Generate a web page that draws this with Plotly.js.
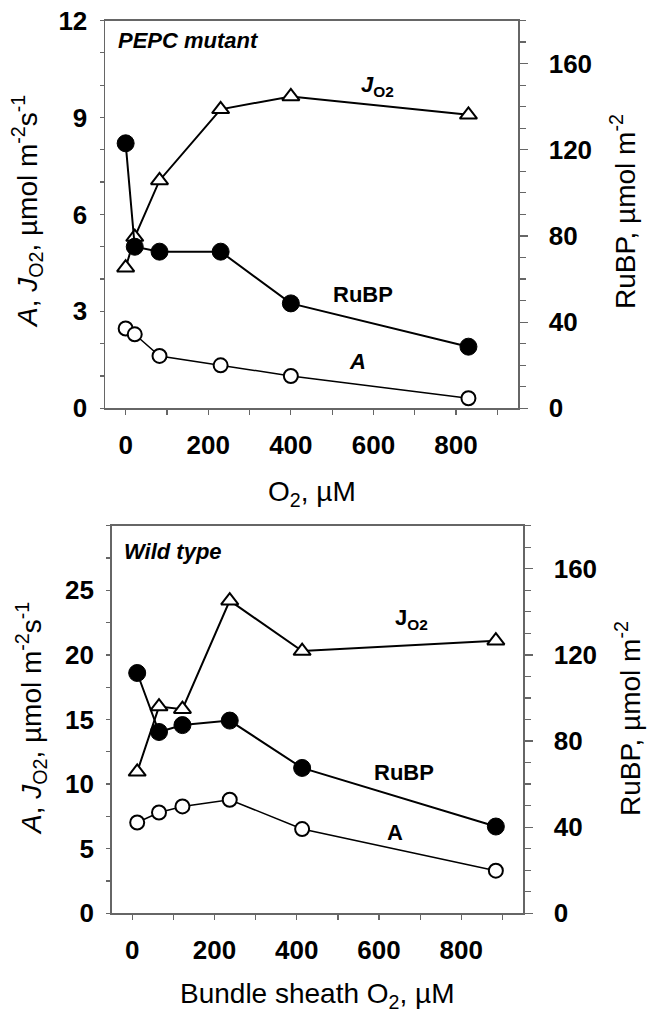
<!DOCTYPE html>
<html>
<head>
<meta charset="utf-8">
<script src="https://cdn.plot.ly/plotly-3.0.1.min.js"></script>
<style>html,body{margin:0;padding:0;background:#fff;}#chart{width:649px;height:1013px;}</style>
</head>
<body>
<div id="chart"></div>
<script>
// ---- Data ----
// Top panel: PEPC mutant
const topO2 = [0, 22, 82, 230, 400, 830];
const topJO2 = [4.35, 5.3, 7.05, 9.25, 9.65, 9.08];
const topA = [2.47, 2.29, 1.62, 1.33, 1.0, 0.31];
const topRuBP = [123, 75, 72.7, 72.7, 48.7, 28.6];
// Bottom panel: Wild type
const botO2 = [12, 65, 122, 237, 413, 884];
const botJO2 = [10.95, 16.0, 15.8, 24.2, 20.3, 21.1];
const botA = [7.03, 7.8, 8.27, 8.79, 6.52, 3.3];
const botRuBP = [111.6, 84.2, 87.4, 89.5, 67.5, 40.3];
// Tick labels
const xTicks = [0, 200, 400, 600, 800];
const topLeftTicks = [0, 3, 6, 9, 12];
const botLeftTicks = [0, 5, 10, 15, 20, 25];
const rightTicks = [0, 40, 80, 120, 160];

const W = 649, H = 1013;
const px = v => v / W;
const py = v => 1 - v / H;

const FONT = 'Liberation Sans, Arial, Helvetica, sans-serif';
const AX = '#666';

function openMarker(sym, size) {
  return {symbol: sym, size: size, color: '#fff', line: {color: '#000', width: 2}};
}

const traces = [
  {x: topO2, y: topJO2, xaxis: 'x', yaxis: 'y', mode: 'lines+markers', name: 'J_O2',
   line: {color: '#000', width: 2}, marker: openMarker('triangle-up', 15), cliponaxis: false},
  {x: topO2, y: topA, xaxis: 'x', yaxis: 'y', mode: 'lines+markers', name: 'A',
   line: {color: '#000', width: 1.5}, marker: openMarker('circle', 14), cliponaxis: false},
  {x: topO2, y: topRuBP, xaxis: 'x', yaxis: 'y2', mode: 'lines+markers', name: 'RuBP',
   line: {color: '#000', width: 2}, marker: {symbol: 'circle', size: 17, color: '#000', line: {color: '#000', width: 1}}, cliponaxis: false},
  {x: botO2, y: botJO2, xaxis: 'x2', yaxis: 'y3', mode: 'lines+markers', name: 'J_O2',
   line: {color: '#000', width: 2}, marker: openMarker('triangle-up', 15), cliponaxis: false},
  {x: botO2, y: botA, xaxis: 'x2', yaxis: 'y3', mode: 'lines+markers', name: 'A',
   line: {color: '#000', width: 1.5}, marker: openMarker('circle', 14), cliponaxis: false},
  {x: botO2, y: botRuBP, xaxis: 'x2', yaxis: 'y4', mode: 'lines+markers', name: 'RuBP',
   line: {color: '#000', width: 2}, marker: {symbol: 'circle', size: 17, color: '#000', line: {color: '#000', width: 1}}, cliponaxis: false}
];

const tickFont = {family: FONT, size: 26, color: '#000', weight: 'bold'};

function xAxis(domain, anchor) {
  return {
    domain: domain, anchor: anchor, range: [-50, 950],
    tickmode: 'array', tickvals: xTicks, ticktext: xTicks.map(String),
    ticks: 'outside', ticklen: 5, tickwidth: 1.2, tickcolor: AX,
    minor: {dtick: 100, tick0: 0, ticks: 'outside', ticklen: 5, tickwidth: 1.2, tickcolor: AX, showgrid: false},
    showline: true, linecolor: AX, linewidth: 1.5, mirror: true,
    showgrid: false, zeroline: false, tickfont: tickFont, ticklabelstandoff: 8,
    fixedrange: true
  };
}
function leftAxis(domain, anchor, range, ticks, minorStep) {
  return {
    domain: domain, anchor: anchor, range: range, side: 'left',
    tickmode: 'array', tickvals: ticks, ticktext: ticks.map(String),
    ticks: 'outside', ticklen: 4, tickwidth: 1.2, tickcolor: AX,
    minor: {dtick: minorStep, tick0: 0, ticks: 'outside', ticklen: 4, tickwidth: 1.2, tickcolor: AX, showgrid: false},
    showline: true, linecolor: AX, linewidth: 1.5,
    showgrid: false, zeroline: false, tickfont: tickFont, ticklabelstandoff: 7,
    fixedrange: true
  };
}
function rightAxis(overlay, anchor) {
  return {
    overlaying: overlay, anchor: anchor, side: 'right', range: [0, 180],
    tickmode: 'array', tickvals: rightTicks, ticktext: rightTicks.map(String),
    ticks: 'outside', ticklen: 8, tickwidth: 1.2, tickcolor: AX,
    minor: {dtick: 10, tick0: 0, ticks: 'outside', ticklen: 6, tickwidth: 1.2, tickcolor: AX, showgrid: false},
    showline: true, linecolor: AX, linewidth: 1.5,
    showgrid: false, zeroline: false, tickfont: tickFont, ticklabelstandoff: 16,
    fixedrange: true
  };
}

const topY = [py(408.3), py(20.5)];
const botY = [py(913.3), py(525.7)];

const titleFont = {family: FONT, size: 28, color: '#000'};
const labFont = {family: FONT, size: 22, color: '#000'};

const annotations = [
  // axis titles
  {text: 'O<sub>2</sub>, µM', x: px(311.5), y: py(493), xref: 'paper', yref: 'paper', showarrow: false, xanchor: 'center', yanchor: 'middle', font: titleFont},
  {text: 'Bundle sheath O<sub>2</sub>, µM', x: px(317), y: py(995), xref: 'paper', yref: 'paper', showarrow: false, xanchor: 'center', yanchor: 'middle', font: titleFont},
  {text: '<i>A</i>, <i>J</i><sub>O2</sub>, µmol m<sup>-2</sup>s<sup>-1</sup>', x: px(27), y: py(212), xref: 'paper', yref: 'paper', showarrow: false, textangle: -90, xanchor: 'center', yanchor: 'middle', font: titleFont},
  {text: '<i>A</i>, <i>J</i><sub>O2</sub>, µmol m<sup>-2</sup>s<sup>-1</sup>', x: px(31), y: py(719), xref: 'paper', yref: 'paper', showarrow: false, textangle: -90, xanchor: 'center', yanchor: 'middle', font: titleFont},
  {text: 'RuBP, µmol m<sup>-2</sup>', x: px(623), y: py(212), xref: 'paper', yref: 'paper', showarrow: false, textangle: -90, xanchor: 'center', yanchor: 'middle', font: titleFont},
  {text: 'RuBP, µmol m<sup>-2</sup>', x: px(628), y: py(719), xref: 'paper', yref: 'paper', showarrow: false, textangle: -90, xanchor: 'center', yanchor: 'middle', font: titleFont},
  // panel labels
  {text: '<b><i>PEPC mutant</i></b>', x: px(116), y: py(40), xref: 'paper', yref: 'paper', showarrow: false, xanchor: 'left', yanchor: 'middle', font: labFont},
  {text: '<b><i>Wild type</i></b>', x: px(122), y: py(551), xref: 'paper', yref: 'paper', showarrow: false, xanchor: 'left', yanchor: 'middle', font: labFont},
  // series labels top
  {text: '<b><i>J</i><sub>O2</sub></b>', x: px(377), y: py(86), xref: 'paper', yref: 'paper', showarrow: false, xanchor: 'center', yanchor: 'middle', font: labFont},
  {text: '<b>RuBP</b>', x: px(363), y: py(294), xref: 'paper', yref: 'paper', showarrow: false, xanchor: 'center', yanchor: 'middle', font: labFont},
  {text: '<b><i>A</i></b>', x: px(357), y: py(362), xref: 'paper', yref: 'paper', showarrow: false, xanchor: 'center', yanchor: 'middle', font: labFont},
  // series labels bottom
  {text: '<b>J<sub>O2</sub></b>', x: px(411), y: py(619), xref: 'paper', yref: 'paper', showarrow: false, xanchor: 'center', yanchor: 'middle', font: labFont},
  {text: '<b>RuBP</b>', x: px(404), y: py(772), xref: 'paper', yref: 'paper', showarrow: false, xanchor: 'center', yanchor: 'middle', font: labFont},
  {text: '<b>A</b>', x: px(395), y: py(832), xref: 'paper', yref: 'paper', showarrow: false, xanchor: 'center', yanchor: 'middle', font: labFont}
];

const layout = {
  width: W, height: H,
  margin: {l: 0, r: 0, t: 0, b: 0},
  paper_bgcolor: '#fff', plot_bgcolor: '#fff',
  showlegend: false,
  font: {family: FONT, color: '#000'},
  xaxis: xAxis([px(105), px(518)], 'y'),
  yaxis: leftAxis(topY, 'x', [0, 12], topLeftTicks, 1),
  yaxis2: rightAxis('y', 'x'),
  xaxis2: xAxis([px(111.7), px(523)], 'y3'),
  yaxis3: leftAxis(botY, 'x2', [0, 30], botLeftTicks, 2.5),
  yaxis4: rightAxis('y3', 'x2'),
  annotations: annotations
};

Plotly.newPlot('chart', traces, layout, {displayModeBar: false, staticPlot: true});
</script>
</body>
</html>
